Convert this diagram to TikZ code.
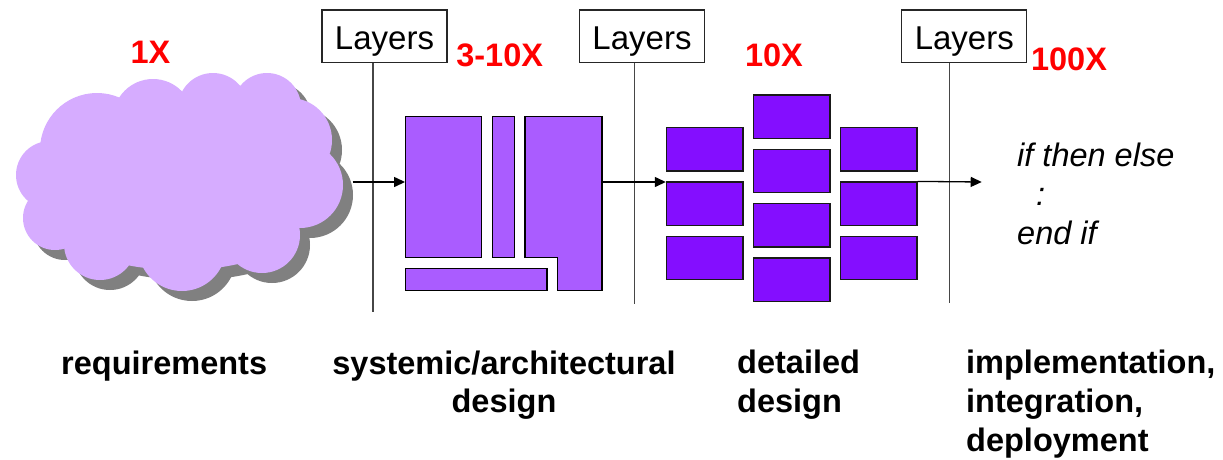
\documentclass[tikz,border=0pt]{standalone}
\usepackage{fontspec}
\setmainfont{Liberation Sans}
\usetikzlibrary{arrows.meta}

\definecolor{cloudfill}{RGB}{214,172,255}
\definecolor{cloudshade}{RGB}{128,128,128}
\definecolor{archfill}{RGB}{170,92,255}
\definecolor{detailfill}{RGB}{132,14,255}
\definecolor{gridline}{RGB}{70,70,70}
\definecolor{factorred}{RGB}{255,0,0}

\tikzset{
  layerbox/.style={draw=black!85, line width=1.2pt, fill=white,
    minimum width=125pt, inner xsep=0pt, inner ysep=0pt,
    text height=39.35pt, text depth=13.35pt,
    font=\fontsize{33}{38}\selectfont},
  archbox/.style={draw=black, line width=1.3pt, fill=archfill, inner sep=0pt},
  archshape/.style={draw=black, line width=1.3pt, fill=archfill},
  detailbox/.style={draw=black!90, line width=1.3pt, fill=detailfill,
    inner sep=0pt, minimum width=76.5pt, minimum height=43.3pt},
  stageline/.style={draw=gridline, line width=1.6pt},
  flow/.style={draw=black, line width=1.3pt,
    -{Triangle[length=11pt,width=10pt]}},
  factor/.style={text=factorred, inner sep=0pt,
    font=\fontsize{32.5}{38}\selectfont\bfseries},
  stage/.style={inner sep=0pt, font=\fontsize{32.5}{38.7}\selectfont\bfseries},
  codetext/.style={inner sep=0pt, align=left,
    font=\fontsize{32.5}{39}\selectfont\itshape},
}

\begin{document}
\begin{tikzpicture}[x=1pt,y=-1pt]
\path[use as bounding box, fill=white] (0,0) rectangle (1223,459);

% requirements cloud: grey drop shadow first, then the lavender puffs
\foreach \off/\col in {10/cloudshade, 0/cloudfill} {
  \begin{scope}[shift={(\off,\off)}]
    \fill[\col]
      (180,180) ellipse[x radius=130, y radius=75]
      (180,230) ellipse[x radius=110, y radius=40]
      (50,175)  circle[radius=34]
      (55,218)  circle[radius=32]
      (97,150)  circle[radius=57]
      (153,119) circle[radius=40]
      (213,108) circle[radius=35]
      (267,107) circle[radius=34]
      (290,140) circle[radius=42]
      (300,185) circle[radius=43]
      (262,235) circle[radius=38]
      (182,247) circle[radius=44]
      (100,244) circle[radius=36];
  \end{scope}
}
\coordinate (cloudE) at (352.7,182);

% stage separators
\coordinate (v1) at (373,312);
\coordinate (v2) at (634.3,304);
\coordinate (v3) at (949.3,303);

\node[layerbox] (L1) at (384.5,36.3) {Layers};
\node[layerbox] (L2) at (642,36.3) {Layers};
\node[layerbox] (L3) at (964.3,36.3) {Layers};

\draw[stageline] (v1 |- L1.south) -- (v1);
\draw[stageline] (v2 |- L2.south) -- (v2);
\draw[stageline] (v3 |- L3.south) -- (v3);

% architectural blocks
\node[archbox, minimum width=76pt, minimum height=141pt] (a1) at (443.7,187.2) {};
\node[archbox, minimum width=21.6pt, minimum height=141pt] (a2) at (503.5,187.2) {};
\draw[archshape] (525,116.7) -- (602,116.7) -- (602,290.7) -- (557.7,290.7)
  -- (557.7,257.7) -- (525,257.7) -- cycle;
\coordinate (a3e) at (602,182);
\node[archbox, minimum width=141.3pt, minimum height=22pt] (a4) at (476.35,279.7) {};

% detailed design modules
\foreach \n/\yy in {1/149.2, 2/203.7, 3/258} {
  \node[detailbox] (dl\n) at (704.7,\yy) {};
  \node[detailbox] (dr\n) at (878.7,\yy) {};
}
\foreach \n/\yy in {1/116.7, 2/171, 3/225.3, 4/279.7} {
  \node[detailbox] (dm\n) at (791.7,\yy) {};
}

% flow between stages
\coordinate (codeIn) at (981.7,182);
\draw[flow] (cloudE) -- (cloudE -| a1.west);
\draw[flow] (a3e) -- (a3e -| dl2.west);
\draw[flow] (dr2.north east) -- (codeIn);

% effort factors
\node[factor, anchor=base] (f1) at (150.5,63.3) {1X};
\node[factor, anchor=base] (f2) at (499.7,66) {3-10X};
\node[factor, anchor=base] (f3) at (774,66) {10X};
\node[factor, anchor=base] (f4) at (1069,70) {100X};

% code fragment (base anchor sits on the last line)
\node[codetext, anchor=base west] (code) at (1017,244)
  {if then else\\\hspace*{19pt}:\\end if};

% stage names (base anchor sits on the last line)
\node[stage, anchor=base west] (s1) at (61,374) {requirements};
\node[stage, anchor=base, align=center] (s2) at (504,412.7)
  {systemic/architectural\\design};
\node[stage, anchor=base west, align=left] (s3) at (737,412.2) {detailed\\design};
\node[stage, anchor=base west, align=left] (s4) at (966,451.2)
  {implementation,\\integration,\\deployment};
\end{tikzpicture}
\end{document}
